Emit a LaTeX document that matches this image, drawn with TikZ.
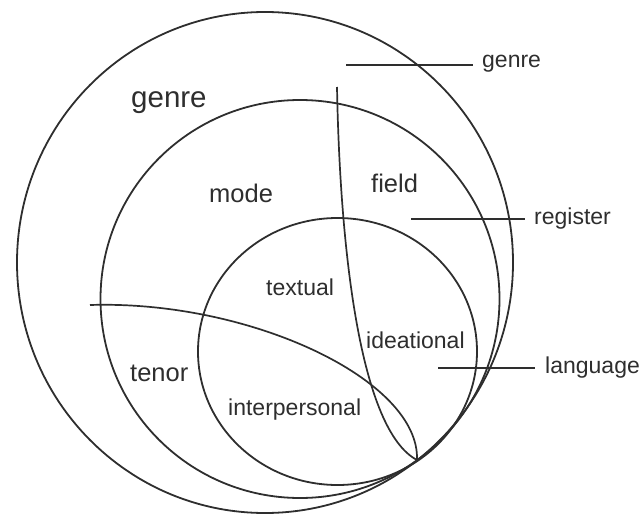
\documentclass[tikz,border=0pt]{standalone}
\usepackage{fontspec}
\setmainfont{Liberation Sans}
\definecolor{ink}{HTML}{2E2E2E}
\tikzset{
  ring/.style={draw=ink, line width=1.8pt},
  divider/.style={draw=ink, line width=1.7pt},
  pointer/.style={draw=ink, line width=1.7pt},
  lbl/.style={text=ink, inner sep=0pt, anchor=base west, font=\fontsize{23}{27}\selectfont},
  midlbl/.style={lbl, font=\fontsize{25.5}{30}\selectfont},
  biglbl/.style={lbl, font=\fontsize{29.5}{34}\selectfont}
}
\begin{document}
\begin{tikzpicture}[x=1pt,y=-1pt]
\useasboundingbox (0,0) rectangle (643,514);
% circles
\draw[ring] (265,262.5) ellipse [x radius=248pt, y radius=250.5pt];
\draw[ring] (300,299) ellipse [x radius=199.5pt, y radius=199pt];
\draw[ring] (337.5,351.5) ellipse [x radius=139.5pt, y radius=133.5pt];
% dividing curves
\coordinate (vtop) at (337,87);
\coordinate (tip) at (417,460);
\coordinate (hleft) at (90,305);
\draw[divider] (vtop) .. controls (340,250) and (360,430) .. (tip);
\draw[divider] (hleft) .. controls (250,300) and (420,380) .. (tip);
% region labels
\node[biglbl] (gbig) at (131,107) {genre};
\node[midlbl] (mode) at (209,202) {mode};
\node[midlbl] (field) at (371,192) {field};
\node[midlbl] (tenor) at (130,381) {tenor};
\node[lbl] (textual) at (266,295) {textual};
\node[lbl] (ideational) at (366,348) {ideational};
\node[lbl] (interp) at (228,415) {interpersonal};
% right labels with pointers
\node[lbl] (rgenre) at (482,67) {genre};
\node[lbl] (rregister) at (534,224) {register};
\node[lbl] (rlanguage) at (545,373) {language};
\coordinate (pg) at (346,65);
\coordinate (pr) at (411,219);
\coordinate (pl) at (438,368);
\draw[pointer] (pg) -- ([xshift=-9pt]pg -| rgenre.west);
\draw[pointer] (pr) -- ([xshift=-9pt]pr -| rregister.west);
\draw[pointer] (pl) -- ([xshift=-10pt]pl -| rlanguage.west);
\end{tikzpicture}
\end{document}
